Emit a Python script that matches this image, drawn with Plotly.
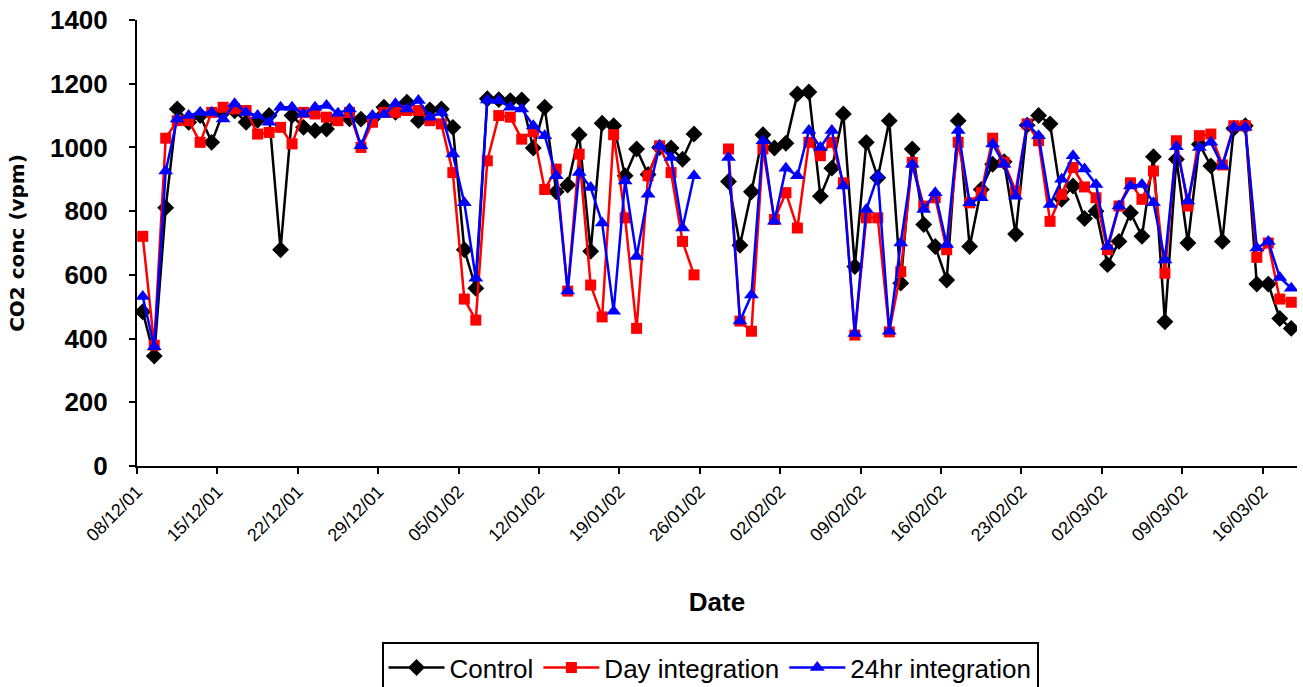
import pandas as pd
import plotly.graph_objects as go

dates = pd.date_range("2001-12-08", "2002-03-18", freq="D")

control = [484, 345, 811, 1121, 1079, 1100, 1016, 1110, 1115, 1079,
           1085, 1100, 679, 1100, 1063, 1053, 1058, 1095, 1090, 1089,
           1090, 1126, 1110, 1142, 1084, 1118, 1121, 1063, 679, 558,
           1153, 1150, 1147, 1149, 998, 1126, 861, 882, 1040, 674,
           1076, 1068, 911, 995, 915, 1000, 998, 963, 1042, None,
           None, 893, 693, 861, 1040, 998, 1013, 1168, 1174, 847,
           935, 1105, 626, 1016, 905, 1084, 574, 995, 758, 689,
           584, 1084, 689, 868, 947, 955, 728, 1070, 1100, 1074,
           837, 879, 777, 800, 632, 705, 795, 721, 971, 453,
           963, 700, 1010, 942, 705, 1060, 1068, 571, 571, 463,
           432]

day_int = [721, 379, 1029, 1084, 1084, 1016, 1110, 1126, 1121, 1116,
           1042, 1047, 1063, 1011, 1110, 1105, 1095, 1084, 1110, 1000,
           1079, 1110, 1110, 1116, 1116, 1084, 1074, 921, 524, 458,
           958, 1100, 1095, 1026, 1050, 868, 932, 549, 979, 568,
           468, 1040, 779, 432, 911, 1005, 921, 705, 600, None,
           None, 995, 455, 423, 995, 774, 858, 747, 1016, 974,
           1016, 889, 411, 779, 779, 421, 610, 953, 816, 842,
           679, 1016, 826, 858, 1029, 953, 863, 1074, 1021, 768,
           853, 937, 876, 842, 679, 816, 889, 837, 926, 605,
           1021, 816, 1037, 1042, 945, 1068, 1068, 655, 700, 524,
           514]

hr24_int = [532, 374, 926, 1089, 1100, 1110, 1110, 1089, 1137, 1110,
            1100, 1079, 1126, 1126, 1105, 1126, 1132, 1107, 1121, 1005,
            1100, 1103, 1137, 1121, 1147, 1095, 1110, 979, 826, 589,
            1149, 1147, 1126, 1121, 1068, 1037, 911, 549, 921, 874,
            763, 486, 895, 658, 853, 1005, 968, 747, 911, None,
            None, 968, 455, 537, 1021, 768, 935, 911, 1053, 1000,
            1053, 879, 416, 805, 911, 423, 700, 947, 805, 858,
            695, 1053, 826, 842, 1011, 947, 847, 1074, 1037, 821,
            900, 974, 932, 884, 689, 816, 879, 884, 826, 647,
            1002, 832, 1000, 1016, 942, 1063, 1063, 684, 705, 592,
            558]

tick_dates = pd.date_range("2001-12-08", "2002-03-16", freq="7D")
tick_labels = [d.strftime("%d/%m/%y") for d in tick_dates]

FONT = "Arial, Liberation Sans, sans-serif"
DAY_MS = 86400000

fig = go.Figure()
series = [
    ("Control", control, "black", "diamond", 13),
    ("Day integration", day_int, "#FF0000", "square", 11),
    ("24hr integration", hr24_int, "#0000FF", "triangle-up", 13),
]
for name, vals, col, sym, sz in series:
    fig.add_trace(go.Scatter(
        x=dates, y=vals, name=name, mode="lines+markers",
        xperiod=DAY_MS, xperiodalignment="middle",
        line=dict(color=col, width=2.5),
        marker=dict(color=col, symbol=sym, size=sz, line=dict(width=0)),
        connectgaps=False,
    ))

fig.update_layout(
    width=1303, height=687,
    margin=dict(l=137, r=6, t=20, b=221, autoexpand=False),
    paper_bgcolor="white", plot_bgcolor="white",
    font=dict(family=FONT, color="black"),
    showlegend=True,
    legend=dict(
        orientation="h", x=0.494, xanchor="center", y=-0.395, yanchor="top",
        bordercolor="black", borderwidth=2, font=dict(size=26, family=FONT),
        itemwidth=56, tracegroupgap=0,
    ),
)
fig.update_xaxes(
    type="date", range=["2001-12-08", "2002-03-19"],
    tickvals=tick_dates, ticktext=tick_labels, tickangle=-45,
    tickfont=dict(size=18, family=FONT),
    ticks="outside", ticklen=6, tickwidth=2, tickcolor="black",
    showline=True, linewidth=2, linecolor="black",
    showgrid=False, zeroline=False, automargin=False,
    title=dict(text="<b>Date</b>", font=dict(size=26, family=FONT), standoff=48),
)
fig.update_yaxes(
    range=[0, 1400], dtick=200, tick0=0,
    tickfont=dict(size=26, family=FONT, weight="bold"),
    ticks="outside", ticklen=6, tickwidth=2, tickcolor="black",
    ticklabelstandoff=16,
    showline=True, linewidth=2, linecolor="black",
    showgrid=False, zeroline=False, automargin=False,
    title=dict(text="<b>CO2 conc (vpm)</b>",
               font=dict(size=20, family="DejaVu Sans, sans-serif"), standoff=20),
)

fig.write_html("out.html")
